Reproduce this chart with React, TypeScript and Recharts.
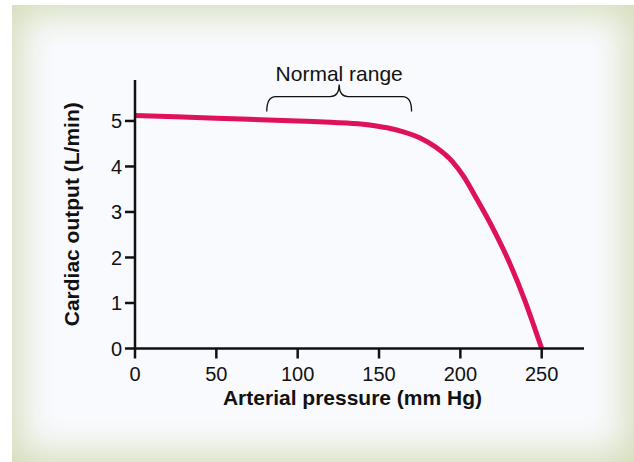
import { LineChart, Line, XAxis, YAxis, ReferenceArea } from 'recharts';

const pressure = [0, 50, 100, 120, 140, 155, 165, 175, 185, 195, 202, 210, 220, 230, 240, 245, 250];
const cardiacOutput = [5.12, 5.06, 5.0, 4.97, 4.93, 4.85, 4.76, 4.63, 4.42, 4.11, 3.78, 3.29, 2.64, 1.9, 1.02, 0.52, 0];

const xTicks = [0, 50, 100, 150, 200, 250];
const yTicks = [0, 1, 2, 3, 4, 5];
const normalRange = [81, 170];

const data = pressure.map((p, i) => ({ pressure: p, output: cardiacOutput[i] }));

const FONT = '"Liberation Sans", Arial, Helvetica, sans-serif';
const INK = '#111';
const CURVE = '#e0115b';

const axisProps = {
  axisLine: { stroke: INK, strokeWidth: 2.5 },
  tickLine: { stroke: INK, strokeWidth: 2.5 },
  tick: { fill: INK, fontSize: 20, fontFamily: FONT },
  tickSize: 10,
};

// curly brace drawn inside the reference area box
function Brace(props: any) {
  const { x, y, width, height } = props;
  const r = 9;
  const ym = y + height * 0.45;
  const yb = y + height;
  const xc = x + width / 2;
  const x1 = x + width;
  const d = `M ${x} ${yb} Q ${x} ${ym} ${x + r} ${ym} L ${xc - r} ${ym} Q ${xc} ${ym} ${xc} ${y} Q ${xc} ${ym} ${xc + r} ${ym} L ${x1 - r} ${ym} Q ${x1} ${ym} ${x1} ${yb}`;
  return <path d={d} fill="none" stroke={INK} strokeWidth={1.3} />;
}

export default function App() {
  return (
    <div style={{ position: 'absolute', left: 0, top: 0, width: 634, height: 462, background: '#fff', overflow: 'hidden' }}>
      <div
        style={{
          position: 'absolute',
          left: 12,
          top: 5,
          width: 622,
          height: 457,
          background: '#f9fafe',
          boxShadow: 'inset 0 0 36px 8px #d3dcb7',
        }}
      />
      <div style={{ position: 'absolute', left: 0, top: 0 }}>
        <LineChart width={634} height={462} data={data} margin={{ top: 80, right: 50, left: 75, bottom: 83.5 }}>
          <XAxis
            dataKey="pressure"
            type="number"
            domain={[0, 276]}
            ticks={xTicks}
            height={30}
            tickMargin={8}
            {...axisProps}
            label={{
              value: 'Arterial pressure (mm Hg)',
              content: (p: any) => {
                const vb = p.viewBox;
                return (
                  <text x={vb.x + vb.width / 2 - 7} y={vb.y + 56.5} textAnchor="middle" fontFamily={FONT} fontWeight="bold" fontSize={21} fill={INK}>
                    Arterial pressure (mm Hg)
                  </text>
                );
              },
            }}
          />
          <YAxis
            type="number"
            domain={[0, 5.9]}
            ticks={yTicks}
            width={60}
            tickMargin={3}
            {...axisProps}
            label={{
              value: 'Cardiac output (L/min)',
              content: (p: any) => {
                const vb = p.viewBox;
                const cx = vb.x + 4;
                const cy = vb.y + vb.height / 2;
                return (
                  <text x={cx} y={cy} transform={`rotate(-90 ${cx} ${cy})`} textAnchor="middle" fontFamily={FONT} fontWeight="bold" fontSize={21} fill={INK}>
                    Cardiac output (L/min)
                  </text>
                );
              },
            }}
          />
          <ReferenceArea
            x1={normalRange[0]}
            x2={normalRange[1]}
            y1={5.21}
            y2={5.8}
            shape={(p: any) => <Brace {...p} />}
            label={{ value: 'Normal range', position: 'top', offset: 4, fontSize: 21, fontFamily: FONT, fill: INK }}
          />
          <Line
            type="monotone"
            dataKey="output"
            stroke={CURVE}
            strokeWidth={5}
            dot={false}
            isAnimationActive={false}
          />
        </LineChart>
      </div>
    </div>
  );
}
